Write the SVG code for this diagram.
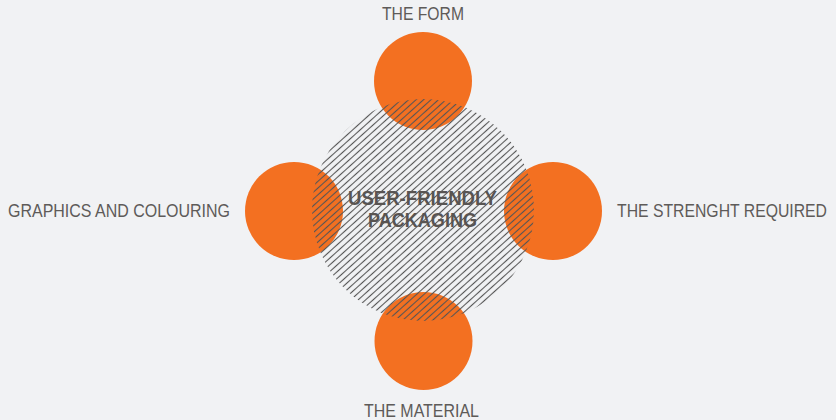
<svg xmlns="http://www.w3.org/2000/svg" width="836" height="420" viewBox="0 0 836 420">
  <defs>
    <pattern id="hatch" patternUnits="userSpaceOnUse" width="10" height="5" patternTransform="rotate(-42)">
      <line x1="0" y1="2.5" x2="10" y2="2.5" stroke="#555555" stroke-width="1.1"/>
    </pattern>
    <style>
      .orb { fill: #f37021; }
      .lbl { font-family: "Liberation Sans", Arial, sans-serif; font-size: 18.5px; fill: #5e5b59; }
      .ctr { font-family: "Liberation Sans", Arial, sans-serif; font-size: 20px; font-weight: bold; fill: #585452; text-anchor: middle; }
    </style>
  </defs>
  <rect x="0" y="0" width="836" height="420" fill="#f1f2f4"/>
  <g id="node-form">
    <circle class="orb" cx="423" cy="81" r="49"/>
    <text class="lbl" x="382" y="20" textLength="82" lengthAdjust="spacingAndGlyphs">THE FORM</text>
  </g>
  <g id="node-graphics">
    <circle class="orb" cx="294" cy="211" r="49"/>
    <text class="lbl" x="8" y="217" textLength="222" lengthAdjust="spacingAndGlyphs">GRAPHICS AND COLOURING</text>
  </g>
  <g id="node-strength">
    <circle class="orb" cx="553" cy="211" r="49"/>
    <text class="lbl" x="617" y="217" textLength="210" lengthAdjust="spacingAndGlyphs">THE STRENGHT REQUIRED</text>
  </g>
  <g id="node-material">
    <circle class="orb" cx="423.5" cy="341" r="49"/>
    <text class="lbl" x="364" y="417" textLength="115" lengthAdjust="spacingAndGlyphs">THE MATERIAL</text>
  </g>
  <g id="connectors"></g>
  <g id="node-center">
    <circle cx="423" cy="210" r="111" fill="url(#hatch)"/>
    <text class="ctr" x="422.5" y="205" textLength="149" lengthAdjust="spacingAndGlyphs">USER-FRIENDLY</text>
    <text class="ctr" x="422.5" y="227" textLength="109" lengthAdjust="spacingAndGlyphs">PACKAGING</text>
  </g>
</svg>
